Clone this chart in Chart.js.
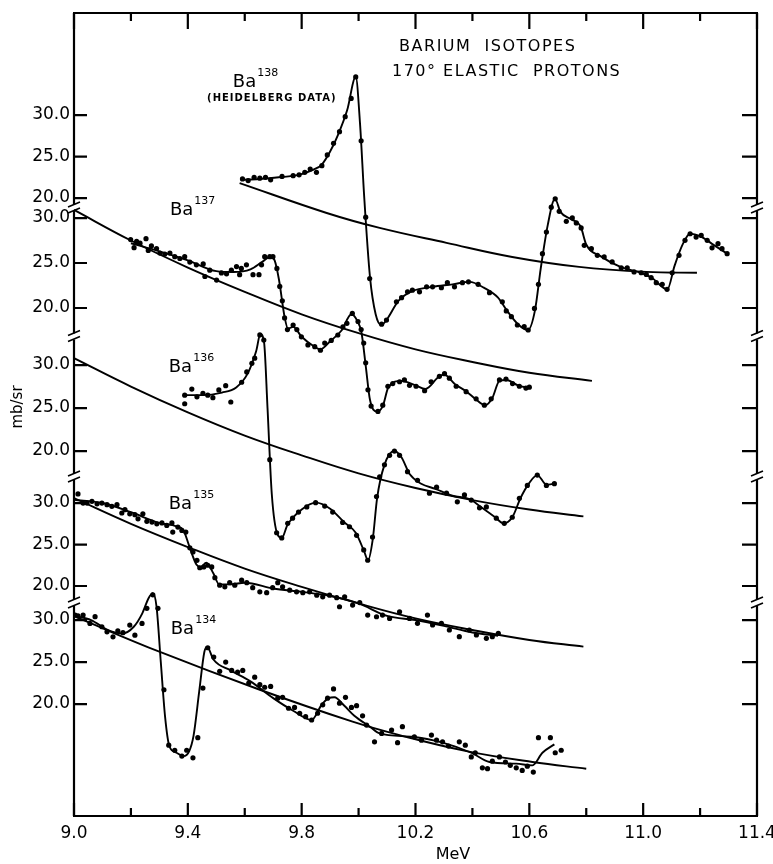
<!DOCTYPE html>
<html>
<head>
<meta charset="utf-8">
<title>Barium isotopes - 170° elastic protons</title>
<script src="https://cdn.jsdelivr.net/npm/chart.js@4.4.1/dist/chart.umd.min.js"></script>
<style>
  html, body { margin: 0; padding: 0; background: #fff; }
  #wrap { width: 773px; height: 864px; }
</style>
</head>
<body>
<div id="wrap"><canvas id="chart" width="773" height="864"></canvas></div>
<script>
// energy axis (MeV)
const energyTicks = [9.0, 9.4, 9.8, 10.2, 10.6, 11.0, 11.4];
const energyMinor = [9.2, 9.6, 10.0, 10.4, 10.8, 11.2];
// each panel repeats the same cross section labels (mb/sr)
const crossTicks = [20, 25, 30];

// measured points [MeV, mb/sr]
const ba138Points = [[9.592,22.3],[9.612,22.1],[9.633,22.5],[9.653,22.4],[9.673,22.5],[9.691,22.2],[9.731,22.6],[9.770,22.7],[9.791,22.8],[9.811,23.1],[9.830,23.5],[9.852,23.1],[9.871,23.9],[9.890,25.2],[9.912,26.6],[9.933,28.0],[9.953,29.8],[9.974,32.0],[9.990,34.6],[10.009,26.9],[10.025,17.7],[10.039,10.3],[10.081,4.8],[10.098,5.3],[10.133,7.5],[10.151,8.0],[10.172,8.7],[10.189,8.9],[10.214,8.7],[10.239,9.3],[10.260,9.3],[10.291,9.2],[10.312,9.8],[10.337,9.3],[10.365,9.8],[10.386,9.9],[10.420,9.6],[10.460,8.6],[10.505,7.5],[10.519,6.4],[10.537,5.7],[10.558,4.7],[10.582,4.5],[10.596,4.1],[10.618,6.7],[10.632,9.6],[10.646,13.3],[10.660,15.9],[10.677,18.9],[10.691,19.9],[10.705,18.4],[10.730,17.2],[10.751,17.6],[10.765,17.0],[10.782,16.4],[10.793,14.3],[10.818,13.9],[10.839,13.1],[10.863,12.9],[10.891,12.3],[10.923,11.6],[10.944,11.6],[10.968,11.1],[10.993,11.0],[11.011,10.8],[11.028,10.4],[11.046,9.8],[11.067,9.6],[11.084,9.0],[11.102,11.0],[11.126,13.1],[11.147,14.9],[11.165,15.7],[11.186,15.3],[11.204,15.5],[11.225,14.9],[11.242,14.0],[11.263,14.5],[11.277,13.9],[11.295,13.3]];
const ba137Points = [[9.199,27.6],[9.211,26.7],[9.220,27.4],[9.232,27.2],[9.253,27.7],[9.261,26.4],[9.272,26.9],[9.290,26.6],[9.302,26.1],[9.319,26.0],[9.337,26.1],[9.354,25.7],[9.372,25.5],[9.389,25.7],[9.407,25.1],[9.430,24.8],[9.454,24.9],[9.460,23.5],[9.477,24.2],[9.501,23.1],[9.518,23.9],[9.536,23.8],[9.553,24.2],[9.571,24.6],[9.582,23.7],[9.588,24.4],[9.606,24.8],[9.629,23.7],[9.650,23.7],[9.659,24.8],[9.670,25.7],[9.688,25.7],[9.699,25.7],[9.713,24.4],[9.723,22.4],[9.732,20.8],[9.740,18.9],[9.750,17.6],[9.770,18.1],[9.783,17.6],[9.799,16.8],[9.822,15.9],[9.846,15.7],[9.866,15.3],[9.881,16.1],[9.904,16.4],[9.927,17.0],[9.945,17.9],[9.959,18.3],[9.978,19.4],[9.998,18.5],[10.009,17.6],[10.018,16.1],[10.025,13.9],[10.033,10.9],[10.044,9.1],[10.068,8.5],[10.085,9.2],[10.103,11.3],[10.120,11.6],[10.144,11.8],[10.161,12.0],[10.179,11.4],[10.202,11.3],[10.232,10.8],[10.255,11.8],[10.284,12.4],[10.302,12.7],[10.319,12.2],[10.343,11.3],[10.378,10.7],[10.413,9.9],[10.442,9.2],[10.466,9.9],[10.495,12.0],[10.518,12.1],[10.541,11.6],[10.565,11.3],[10.588,11.1],[10.600,11.2]];
const ba136Points = [[9.389,26.5],[9.389,25.5],[9.414,27.2],[9.432,26.3],[9.453,26.7],[9.470,26.5],[9.488,26.2],[9.509,27.1],[9.533,27.6],[9.551,25.7],[9.589,28.0],[9.607,29.2],[9.625,30.2],[9.635,30.8],[9.653,33.5],[9.667,32.9],[9.688,19.0],[9.712,10.5],[9.730,9.9],[9.751,11.6],[9.768,12.2],[9.789,12.9],[9.818,13.5],[9.849,14.0],[9.881,13.6],[9.909,12.9],[9.944,11.7],[9.968,11.2],[9.993,10.2],[10.018,8.5],[10.032,7.3],[10.049,10.0],[10.063,14.7],[10.074,17.0],[10.091,18.4],[10.109,19.5],[10.126,20.0],[10.144,19.5],[10.172,17.6],[10.207,16.6],[10.249,15.1],[10.274,15.8],[10.309,15.1],[10.347,14.1],[10.372,14.9],[10.396,14.3],[10.425,13.4],[10.449,13.5],[10.484,12.2],[10.512,11.6],[10.540,12.3],[10.565,14.5],[10.593,16.0],[10.628,17.2],[10.660,16.0],[10.688,16.2]];
const ba135Points = [[9.014,31.1],[9.032,30.0],[9.046,30.0],[9.063,30.2],[9.081,29.9],[9.098,30.0],[9.116,29.8],[9.133,29.6],[9.151,29.8],[9.168,28.8],[9.179,29.2],[9.196,28.7],[9.214,28.6],[9.225,28.1],[9.242,28.7],[9.256,27.8],[9.274,27.7],[9.291,27.5],[9.309,27.6],[9.326,27.3],[9.344,27.6],[9.347,26.5],[9.365,27.1],[9.379,26.7],[9.393,26.5],[9.407,24.6],[9.418,24.1],[9.432,23.1],[9.442,22.2],[9.456,22.3],[9.470,22.5],[9.484,22.3],[9.495,21.0],[9.512,20.1],[9.530,19.9],[9.547,20.4],[9.565,20.1],[9.589,20.7],[9.607,20.4],[9.628,19.8],[9.653,19.3],[9.677,19.2],[9.698,19.8],[9.716,20.4],[9.733,19.9],[9.758,19.5],[9.782,19.3],[9.804,19.2],[9.828,19.3],[9.853,18.9],[9.874,18.7],[9.898,18.9],[9.923,18.6],[9.933,17.5],[9.951,18.7],[9.979,17.7],[10.004,18.0],[10.032,16.5],[10.063,16.3],[10.084,16.5],[10.109,16.1],[10.144,16.9],[10.179,16.1],[10.207,15.5],[10.242,16.5],[10.260,15.3],[10.291,15.5],[10.319,14.7],[10.354,13.9],[10.389,14.7],[10.414,14.1],[10.449,13.7],[10.470,13.9],[10.491,14.3]];
const ba134Points = [[9.004,30.6],[9.014,30.5],[9.032,30.6],[9.056,29.6],[9.074,30.4],[9.098,29.2],[9.116,28.6],[9.137,28.0],[9.154,28.7],[9.172,28.5],[9.196,29.4],[9.214,28.2],[9.239,29.6],[9.256,31.4],[9.277,33.0],[9.295,31.4],[9.316,21.7],[9.333,15.1],[9.354,14.5],[9.379,13.8],[9.396,14.5],[9.418,13.6],[9.435,16.0],[9.453,21.9],[9.470,26.7],[9.491,25.6],[9.512,23.9],[9.533,25.0],[9.554,24.0],[9.575,23.8],[9.593,24.0],[9.614,22.5],[9.635,23.2],[9.653,22.3],[9.670,22.0],[9.691,22.1],[9.716,20.7],[9.733,20.8],[9.754,19.5],[9.775,19.6],[9.793,18.9],[9.814,18.5],[9.835,18.1],[9.856,18.9],[9.874,19.9],[9.891,20.7],[9.912,21.8],[9.933,20.1],[9.954,20.8],[9.975,19.6],[9.993,19.8],[10.014,18.6],[10.028,17.5],[10.056,15.5],[10.081,16.5],[10.116,16.9],[10.137,15.4],[10.154,17.3],[10.196,16.1],[10.221,15.7],[10.256,16.3],[10.274,15.7],[10.295,15.5],[10.316,15.0],[10.354,15.5],[10.375,15.1],[10.396,13.7],[10.410,14.2],[10.435,12.4],[10.453,12.3],[10.470,13.2],[10.495,13.7],[10.516,13.1],[10.533,12.7],[10.554,12.4],[10.575,12.1],[10.593,12.6],[10.614,11.9],[10.632,16.0],[10.674,16.0],[10.691,14.2],[10.712,14.5]];

// hand-drawn fits through the points [MeV, mb/sr]
const ba138Fit = [[9.59,22.2],[9.65,22.3],[9.72,22.5],[9.79,22.8],[9.84,23.4],[9.87,24.0],[9.90,25.6],[9.93,27.8],[9.96,30.6],[9.99,34.6],[10.005,29],[10.02,20],[10.04,10.5],[10.06,6.0],[10.08,4.7],[10.10,5.4],[10.14,7.6],[10.19,8.8],[10.26,9.3],[10.33,9.6],[10.39,9.9],[10.44,9.2],[10.49,8.0],[10.52,6.5],[10.56,4.8],[10.595,4.1],[10.62,6.5],[10.64,11.5],[10.665,16.8],[10.69,19.9],[10.71,18.3],[10.75,17.4],[10.78,16.6],[10.80,14.4],[10.85,13.0],[10.92,11.7],[10.99,11.0],[11.03,10.4],[11.085,9.0],[11.11,11.8],[11.14,14.5],[11.165,15.7],[11.2,15.4],[11.25,14.3],[11.295,13.3]];
const ba137Fit = [[9.2,27.2],[9.3,26.3],[9.4,25.3],[9.5,24.1],[9.56,24.0],[9.62,24.3],[9.66,25.1],[9.69,25.7],[9.705,25.3],[9.72,23.2],[9.74,19.0],[9.752,17.7],[9.77,17.9],[9.80,16.8],[9.84,15.8],[9.865,15.4],[9.90,16.3],[9.94,17.5],[9.975,19.3],[9.995,18.6],[10.01,17.3],[10.025,13.6],[10.04,9.8],[10.065,8.5],[10.085,9.1],[10.105,11.2],[10.15,11.9],[10.2,11.4],[10.235,11.0],[10.28,12.3],[10.30,12.6],[10.34,11.5],[10.38,10.7],[10.41,9.9],[10.445,9.2],[10.47,10.0],[10.495,11.9],[10.52,12.0],[10.56,11.4],[10.6,11.1]];
const ba136Fit = [[9.39,26.5],[9.45,26.5],[9.52,26.8],[9.57,27.4],[9.61,29.0],[9.64,31.6],[9.655,33.6],[9.668,32.6],[9.68,25],[9.695,15],[9.715,10.3],[9.73,9.9],[9.75,11.4],[9.8,13.2],[9.85,14.0],[9.9,13.3],[9.95,11.7],[9.99,10.5],[10.02,8.3],[10.033,7.3],[10.05,9.8],[10.065,14.5],[10.09,18.3],[10.125,20.0],[10.15,19.3],[10.18,17.3],[10.22,16.2],[10.27,15.6],[10.33,14.8],[10.39,14.4],[10.43,13.5],[10.48,12.3],[10.51,11.6],[10.54,12.3],[10.57,14.6],[10.6,16.3],[10.628,17.2],[10.66,16.1],[10.688,16.2]];
const ba135Fit = [[9.0,30.4],[9.1,30.0],[9.2,28.9],[9.3,27.6],[9.36,27.2],[9.385,26.7],[9.405,24.8],[9.43,22.6],[9.445,22.3],[9.465,22.8],[9.49,21.5],[9.51,20.2],[9.55,20.2],[9.6,20.4],[9.7,19.7],[9.8,19.3],[9.9,18.8],[10.0,17.9],[10.1,16.4],[10.2,15.9],[10.3,15.2],[10.4,14.4],[10.49,14.0]];
const ba134Fit = [[9.0,30.5],[9.06,30.0],[9.12,28.8],[9.17,28.4],[9.21,29.2],[9.24,30.8],[9.262,32.6],[9.277,33.2],[9.29,31.6],[9.305,25],[9.32,18.5],[9.335,15.0],[9.36,14.2],[9.385,13.8],[9.405,14.4],[9.42,16.2],[9.44,21.5],[9.458,26.2],[9.468,26.8],[9.49,25.3],[9.55,24.0],[9.62,22.7],[9.7,20.7],[9.77,19.2],[9.835,18.1],[9.87,19.9],[9.895,20.7],[9.915,20.8],[9.95,19.8],[9.985,18.6],[10.04,17.3],[10.074,16.5],[10.19,16.1],[10.295,15.4],[10.396,14.2],[10.46,13.1],[10.554,12.9],[10.611,12.7],[10.646,14.2],[10.688,15.2]];

// smooth potential-scattering curves [MeV, mb/sr]
const ba138Background = [[9.582,21.8],[9.888,18.2],[10.074,16.4],[10.309,14.6],[10.540,12.9],[10.775,11.7],[11.011,11.1],[11.189,11.0]];
const ba137Background = [[9.0,30.9],[9.2,27.5],[9.4,24.5],[9.6,21.8],[9.8,19.3],[10.0,17.2],[10.2,15.4],[10.4,14.0],[10.6,12.8],[10.82,11.9]];
const ba136Background = [[9.0,30.8],[9.2,27.5],[9.4,24.5],[9.6,21.8],[9.8,19.5],[10.0,17.4],[10.2,15.7],[10.4,14.3],[10.6,13.2],[10.79,12.4]];
const ba135Background = [[9.0,30.6],[9.2,27.5],[9.4,24.7],[9.6,22.1],[9.8,19.9],[10.0,17.9],[10.2,16.1],[10.4,14.7],[10.6,13.5],[10.79,12.7]];
const ba134Background = [[9.004,30.4],[9.302,26.2],[9.653,21.7],[9.979,17.9],[10.144,16.3],[10.379,14.4],[10.611,13.1],[10.8,12.3]];

// stacking of the panels on one shared axis: offset of the 20 mb/sr line and stretch
const panels = {
  '138': { base: 73.57, stretch: 0.988 },
  '137': { base: 60.48, stretch: 1.071 },
  '136': { base: 43.45, stretch: 1.024 },
  '135': { base: 27.38, stretch: 0.988 },
  '134': { base: 13.33, stretch: 1.0 }
};
const panelOrder = ['138', '137', '136', '135', '134'];

function stackY(iso, v) {
  const p = panels[iso];
  return p.base + p.stretch * (v - 20);
}
function toXY(iso, pairs) {
  return pairs.map(([e, v]) => ({ x: e, y: stackY(iso, v) }));
}

// y ticks for every panel
const yTicks = [];
panelOrder.forEach(iso => {
  crossTicks.forEach(c => yTicks.push({ value: stackY(iso, c), label: c.toFixed(1) }));
});
// axis breaks halfway between neighbouring panels
const yBreaks = [];
for (let i = 0; i < panelOrder.length - 1; i++) {
  yBreaks.push((stackY(panelOrder[i], 20) + stackY(panelOrder[i + 1], 30)) / 2);
}

const ink = '#000';
const series = {
  '138': [ba138Points, ba138Fit, ba138Background],
  '137': [ba137Points, ba137Fit, ba137Background],
  '136': [ba136Points, ba136Fit, ba136Background],
  '135': [ba135Points, ba135Fit, ba135Background],
  '134': [ba134Points, ba134Fit, ba134Background]
};

const datasets = [];
panelOrder.forEach(iso => {
  const [pts, fit, bg] = series[iso];
  datasets.push({
    type: 'line', label: 'Ba' + iso + ' background', data: toXY(iso, bg),
    borderColor: ink, borderWidth: 1.9, pointRadius: 0, tension: 0.4, fill: false
  });
  datasets.push({
    type: 'line', label: 'Ba' + iso + ' fit', data: toXY(iso, fit),
    borderColor: ink, borderWidth: 1.9, pointRadius: 0, cubicInterpolationMode: 'monotone', fill: false
  });
  datasets.push({
    type: 'scatter', label: 'Ba' + iso, data: toXY(iso, pts),
    backgroundColor: ink, borderWidth: 0, pointRadius: 2.6, showLine: false
  });
});

// labels inside the plot: [mass, MeV, mb/sr in its own panel]
const isoLabels = [['138', 9.558, 34.0], ['137', 9.337, 30.9], ['136', 9.333, 29.7], ['135', 9.333, 29.9], ['134', 9.340, 28.9]];

// frame, inward ticks, axis breaks and the lettering
const framePlugin = {
  id: 'frame',
  afterDraw(chart) {
    const { ctx, chartArea: { left, right, top, bottom }, scales: { x, y } } = chart;
    ctx.save();
    ctx.strokeStyle = ink;
    ctx.lineWidth = 2.2;
    ctx.lineCap = 'butt';

    // top and bottom lines
    ctx.beginPath();
    ctx.moveTo(left - 1, top); ctx.lineTo(right + 1, top);
    ctx.moveTo(left - 1, bottom); ctx.lineTo(right + 1, bottom);
    ctx.stroke();

    // side lines with gaps at the breaks
    const breakPx = yBreaks.map(b => y.getPixelForValue(b));
    [left, right].forEach(xx => {
      let from = top;
      ctx.beginPath();
      breakPx.forEach(bp => {
        ctx.moveTo(xx, from); ctx.lineTo(xx, bp - 3);
        from = bp + 3;
      });
      ctx.moveTo(xx, from); ctx.lineTo(xx, bottom);
      ctx.stroke();
      ctx.lineWidth = 1.6;
      ctx.beginPath();
      breakPx.forEach(bp => {
        ctx.moveTo(xx - 6, bp - 1); ctx.lineTo(xx + 6, bp - 6);
        ctx.moveTo(xx - 6, bp + 5); ctx.lineTo(xx + 6, bp);
      });
      ctx.stroke();
      ctx.lineWidth = 2.2;
    });

    // ticks pointing into the plot
    ctx.beginPath();
    yTicks.forEach(t => {
      const py = y.getPixelForValue(t.value);
      ctx.moveTo(left, py); ctx.lineTo(left + 13, py);
      ctx.moveTo(right, py); ctx.lineTo(right - 15, py);
    });
    energyTicks.forEach(e => {
      const px = x.getPixelForValue(e);
      ctx.moveTo(px, bottom); ctx.lineTo(px, bottom - 13);
      ctx.moveTo(px, top); ctx.lineTo(px, top + 16);
    });
    energyMinor.forEach(e => {
      const px = x.getPixelForValue(e);
      ctx.moveTo(px, bottom); ctx.lineTo(px, bottom - 8);
      ctx.moveTo(px, top); ctx.lineTo(px, top + 8);
    });
    ctx.stroke();

    ctx.fillStyle = ink;
    ctx.textBaseline = 'middle';

    // title
    ctx.font = '16px "DejaVu Sans"';
    ctx.letterSpacing = '1.5px';
    ctx.textAlign = 'right';
    ctx.fillText('BARIUM  ISOTOPES', x.getPixelForValue(10.765), top + 34);
    ctx.fillText('170° ELASTIC  PROTONS', x.getPixelForValue(10.923), top + 59);
    ctx.letterSpacing = '0px';

    // isotope names
    ctx.textAlign = 'left';
    isoLabels.forEach(([iso, e, v]) => {
      const px = x.getPixelForValue(e);
      const py = y.getPixelForValue(stackY(iso, v));
      ctx.font = '18px "DejaVu Sans"';
      ctx.fillText('Ba', px, py);
      const w = ctx.measureText('Ba').width;
      ctx.font = '11px "DejaVu Sans"';
      ctx.fillText(iso, px + w + 1, py - 9);
    });

    ctx.font = 'bold 10px "DejaVu Sans"';
    ctx.letterSpacing = '1px';
    ctx.textAlign = 'center';
    ctx.fillText('(HEIDELBERG DATA)', x.getPixelForValue(9.695), y.getPixelForValue(stackY('138', 32.0)));
    ctx.letterSpacing = '0px';

    // axis titles
    ctx.font = '16px "DejaVu Sans"';
    ctx.fillText('MeV', 453, 855);
    ctx.translate(18, 407);
    ctx.rotate(-Math.PI / 2);
    ctx.font = '15px "DejaVu Sans"';
    ctx.fillText('mb/sr', 0, 0);
    ctx.restore();
  }
};

const tickFont = { family: 'DejaVu Sans', size: 17 };

new Chart(document.getElementById('chart'), {
  type: 'scatter',
  data: { datasets },
  options: {
    responsive: false,
    animation: false,
    layout: { padding: { top: 13, right: 16, left: 0, bottom: 0 } },
    plugins: { legend: { display: false }, tooltip: { enabled: false } },
    scales: {
      x: {
        type: 'linear', min: 9.0, max: 11.4,
        afterBuildTicks: s => { s.ticks = energyTicks.map(v => ({ value: v })); },
        afterFit: s => { s.height = 48; s.paddingLeft = 0; s.paddingRight = 0; },
        ticks: { font: tickFont, color: ink, padding: 7, maxRotation: 0, autoSkip: false,
                 callback: v => Number(v).toFixed(1) },
        grid: { display: false, drawTicks: false },
        border: { display: false }
      },
      y: {
        type: 'linear', min: 0, max: 95.6,
        afterBuildTicks: s => { s.ticks = yTicks.map(t => ({ value: t.value })); },
        afterFit: s => { s.width = 74; s.paddingTop = 0; s.paddingBottom = 0; },
        ticks: { font: tickFont, color: ink, padding: 4, autoSkip: false,
                 callback: (v, i) => yTicks[i].label },
        grid: { display: false, drawTicks: false },
        border: { display: false }
      }
    }
  },
  plugins: [framePlugin]
});
</script>
</body>
</html>
